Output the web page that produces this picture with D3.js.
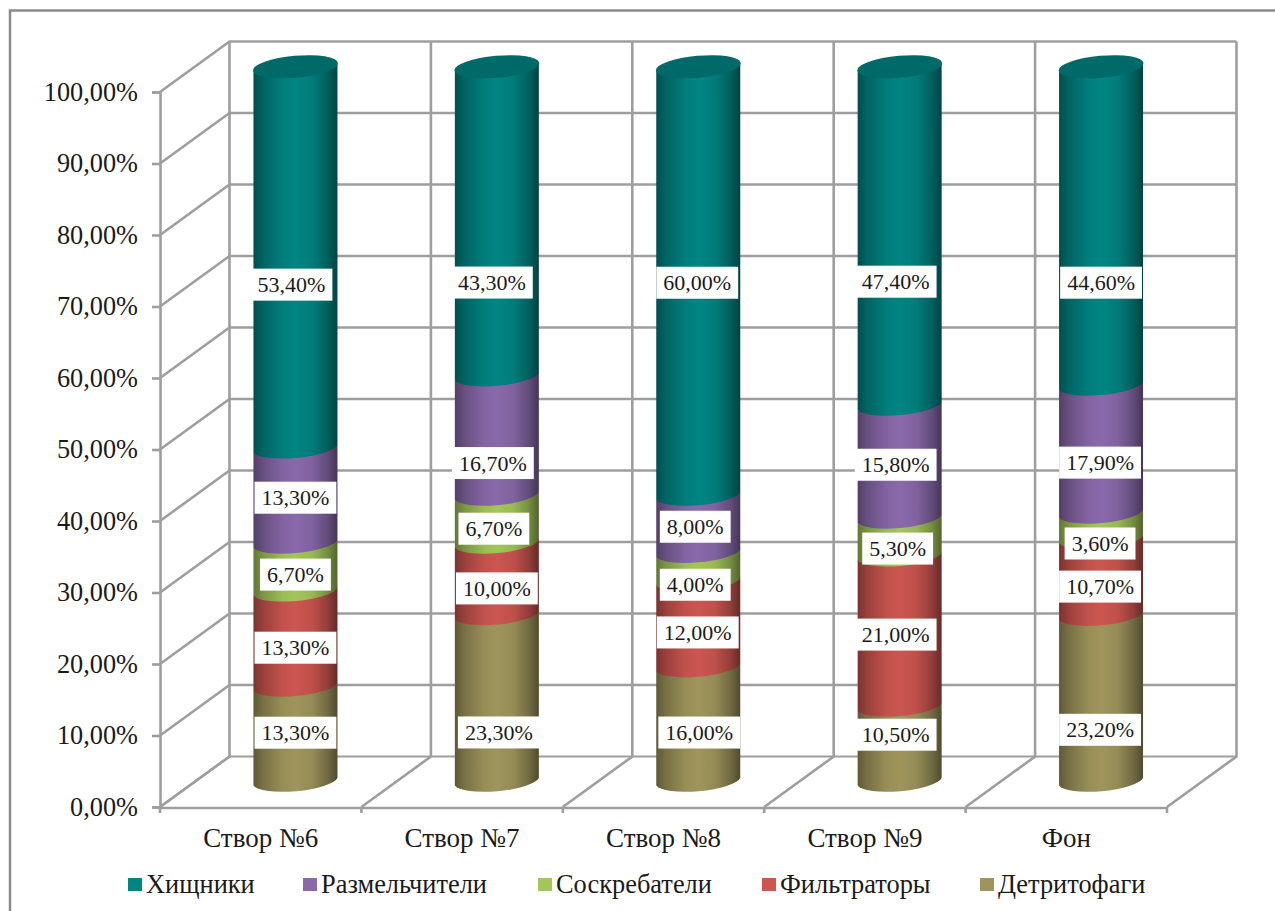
<!DOCTYPE html>
<html lang="ru">
<head>
<meta charset="utf-8">
<title>Трофическая структура</title>
<script src="https://cdn.jsdelivr.net/npm/d3@7"></script>
<style>
  html, body { margin: 0; padding: 0; background: #fff; }
  svg { display: block; }
  text { font-family: "Liberation Serif", serif; fill: #1a1a1a; }
</style>
</head>
<body>
<svg id="chart" width="1275" height="911"></svg>
<script>
// Values in percent, stacked from the floor of the chart upwards.
const categories = ["Створ №6", "Створ №7", "Створ №8", "Створ №9", "Фон"];
const detritophages = [13.3, 23.3, 16.0, 10.5, 23.2];
const filterFeeders = [13.3, 10.0, 12.0, 21.0, 10.7];
const scrapers      = [6.7, 6.7, 4.0, 5.3, 3.6];
const shredders     = [13.3, 16.7, 8.0, 15.8, 17.9];
const predators     = [53.4, 43.3, 60.0, 47.4, 44.6];
const yTicks = [0, 10, 20, 30, 40, 50, 60, 70, 80, 90, 100];

const seriesNames  = ["Детритофаги", "Фильтраторы", "Соскребатели", "Размельчители", "Хищники"];
const seriesValues = [detritophages, filterFeeders, scrapers, shredders, predators];
const seriesColors = ["#9f955c", "#cc5650", "#a3c65a", "#8a69ab", "#008583"];
const capColor = "#006a68";

// Hand-placed data labels: shift from each segment's middle, per series then column.
const labelShiftY = [
  [-1.5, 34, 8, -9.5, 31],
  [8.6, 9, 8, 3, 9],
  [7, 9, 17.5, 11, 17],
  [1.6, 27, 2.4, 2.6, 13],
  [27, 61, 1.5, 45.5, 56.5]
];
const labelShiftX = [
  [0, 2, 1, -4, -1],
  [0, 0, -0.5, -4, -1],
  [0, -3, -3, -2, -1],
  [0, -4, -3, -4, -1],
  [-4, -5, -1, -4, 0]
];

// Legend runs left to right, predators first.
const legendOrder = [4, 3, 2, 1, 0];
const legendX = [128, 303, 538, 762, 980];

const svg = d3.select("#chart");
const gridColor = "#9e9e9e";

// Plot frame: front-left edge plus the depth offset of the back wall.
const front = { left: 160, right: 1167, bottom: 807, top: 92 };
const depth = { dx: 69.5, dy: -50.5 };

const x = d3.scaleBand().domain(categories).range([front.left, front.right]);
const y = d3.scaleLinear().domain([0, 100]).range([front.bottom, front.top]);

// Outer frame of the figure (left and top rules only).
svg.append("path")
  .attr("d", "M10,911V10.5H1275")
  .attr("fill", "none").attr("stroke", "#8a8a8a").attr("stroke-width", 2.5);

const grid = svg.append("g")
  .attr("fill", "none").attr("stroke", gridColor).attr("stroke-width", 2.6);

// Horizontal rules on the back wall and diagonals on the side wall.
yTicks.forEach(t => {
  const py = y(t);
  grid.append("path").attr("d",
    `M${front.left},${py}L${front.left + depth.dx},${py + depth.dy}H${front.right + depth.dx}`)
    .attr("stroke-width", t === 0 ? 2.2 : 2.6);
});

// Category boundaries: floor diagonals and verticals on the back wall.
const boundaries = categories.map(c => x(c)).concat(front.right);
boundaries.forEach(bx => {
  grid.append("path").attr("d",
    `M${bx},${front.bottom}L${bx + depth.dx},${front.bottom + depth.dy}V${front.top + depth.dy}`);
  grid.append("path").attr("d", `M${bx},${front.bottom}V${front.bottom + 6}`);
});

// Front floor edge and value axis.
grid.append("path").attr("d", `M${front.left},${front.bottom + 1}H${front.right}`);

const yAxis = d3.axisLeft(y)
  .tickValues(yTicks)
  .tickSize(8)
  .tickPadding(14)
  .tickFormat(d => d.toFixed(2).replace(".", ",") + "%");
const yG = svg.append("g").attr("transform", `translate(${front.left},0)`).call(yAxis);
yG.selectAll("path.domain").attr("stroke", gridColor).attr("stroke-width", 2.6);
yG.selectAll("line").attr("stroke", gridColor).attr("stroke-width", 2.6);
yG.selectAll("text").attr("font-size", 26.3).attr("font-family", "Liberation Serif").attr("fill", "#1a1a1a");

const xAxis = d3.axisBottom(x).tickSize(0).tickPadding(21);
const xG = svg.append("g").attr("transform", `translate(0,${front.bottom})`).call(xAxis);
xG.select("path.domain").remove();
xG.selectAll("text").attr("font-size", 27).attr("font-family", "Liberation Serif").attr("fill", "#1a1a1a");

// Horizontal shading that gives the stacked columns their round look.
const defs = svg.append("defs");
const shade = [[0, 0.6], [0.12, 0.76], [0.35, 0.95], [0.5, 1], [0.7, 0.93], [0.88, 0.72], [1, 0.5]];
seriesColors.forEach((col, i) => {
  const g = defs.append("linearGradient").attr("id", `shade${i}`)
    .attr("x1", 0).attr("x2", 1).attr("y1", 0).attr("y2", 0);
  shade.forEach(([o, k]) => {
    const c = d3.rgb(col);
    g.append("stop").attr("offset", o)
      .attr("stop-color", d3.rgb(c.r * k, c.g * k, c.b * k).formatHex());
  });
});

// Columns stand halfway into the depth of the floor.
const barHalf = 42, tilt = 3.8, rx = 42.6, ry = 11, rot = -5.2;
const midDx = depth.dx / 2, midDy = depth.dy / 2;
const cx = c => x(c) + x.bandwidth() / 2 + midDx;
const cy = v => y(v) + midDy;

const bars = svg.append("g");
const labels = [];
categories.forEach((c, ci) => {
  const xc = cx(c);
  let base = 0;
  seriesValues.forEach((vals, si) => {
    const v = vals[ci];
    const top = base + v;
    const yb = cy(base), yt = cy(top);
    bars.append("path")
      .attr("d", `M${xc - barHalf},${yb + tilt}` +
        `A${rx},${ry} ${rot} 0 0 ${xc + barHalf},${yb - tilt}` +
        `L${xc + barHalf},${yt - tilt}L${xc - barHalf},${yt + tilt}Z`)
      .attr("fill", `url(#shade${si})`);
    labels.push({
      x: xc + labelShiftX[si][ci],
      y: cy(base + v / 2) + labelShiftY[si][ci],
      text: v.toFixed(2).replace(".", ",") + "%"
    });
    base = top;
  });
  // Darker lid on the top of the column.
  bars.append("ellipse")
    .attr("cx", xc).attr("cy", cy(100))
    .attr("rx", rx).attr("ry", ry)
    .attr("transform", `rotate(${rot} ${xc} ${cy(100)})`)
    .attr("fill", capColor);
});

// White boxed value labels.
const labelG = svg.append("g");
labels.forEach(l => {
  const g = labelG.append("g").attr("transform", `translate(${l.x},${l.y})`);
  const t = g.append("text")
    .attr("text-anchor", "middle").attr("dy", "0.34em")
    .attr("font-size", 22).text(l.text);
  const w = t.node().getComputedTextLength() + 14;
  g.insert("rect", "text")
    .attr("x", -w / 2).attr("y", -16).attr("width", w).attr("height", 32)
    .attr("fill", "#fff");
});

// Legend.
const legend = svg.append("g");
legendOrder.forEach((si, i) => {
  legend.append("rect")
    .attr("x", legendX[i]).attr("y", 878).attr("width", 14).attr("height", 13)
    .attr("fill", seriesColors[si]);
  legend.append("text")
    .attr("x", legendX[i] + 18).attr("y", 893)
    .attr("font-size", 26.4).text(seriesNames[si]);
});
</script>
</body>
</html>
